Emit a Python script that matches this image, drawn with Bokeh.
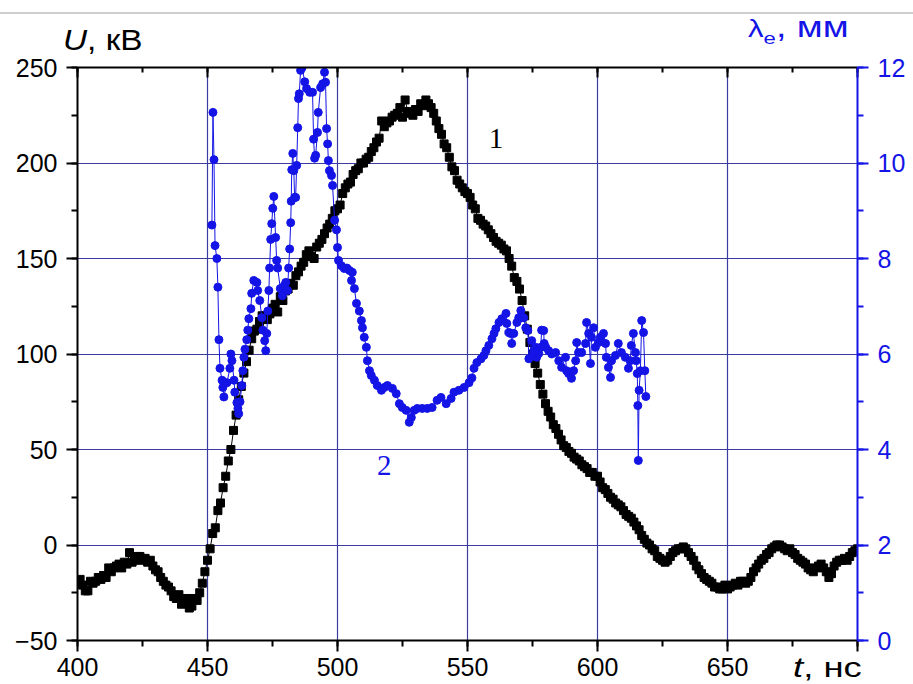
import numpy as np
from bokeh.plotting import figure
from bokeh.layouts import column
from bokeh.models import (Range1d, LinearAxis, SingleIntervalTicker, Label, ColumnDataSource, Div,
                          CustomJSTickFormatter)
from bokeh.embed import file_html
from bokeh.resources import INLINE

# ---- series 1: U, kV (black squares), sampled every 1 ns from 400 to 700 ns
T1 = np.arange(400, 701, 1)
U1 = [-20, -18, -21, -24, -24, -19, -20, -19, -17, -18,
      -16, -17, -12, -14, -12, -11, -10, -12, -9, -10,
      -4, -9, -8, -6, -6, -8, -7, -9, -8, -11,
      -13, -14, -17, -19, -21, -22, -24, -27, -28, -26,
      -31, -29, -28, -33, -32, -28, -29, -25, -20, -14,
      -8, -2, 6, 9, 18, 22, 30, 36, 44, 50,
      60, 68, 76, 83, 90, 96, 102, 108, 112, 113,
      117, 120, 120, 118, 121, 124, 126, 122, 130, 128,
      133, 134, 137, 136, 141, 143, 146, 148, 152, 154,
      151, 150, 156, 158, 160, 163, 166, 168, 171, 175,
      176, 178, 184, 187, 189, 190, 194, 196, 197, 200,
      200, 202, 203, 206, 208, 211, 213, 222, 219, 221,
      222, 224, 225, 226, 229, 224, 233, 227, 226, 225,
      228, 227, 231, 230, 233, 231, 229, 226, 222, 218,
      215, 210, 208, 203, 198, 196, 191, 189, 187, 185,
      184, 182, 178, 176, 171, 170, 168, 167, 165, 163,
      161, 159, 158, 157, 155, 154, 150, 146, 140, 138,
      134, 128, 120, 113, 106, 100, 95, 90, 84, 79,
      74, 70, 67, 63, 61, 58, 55, 52, 51, 49,
      48, 46, 45, 44, 42, 41, 40, 38, 38, 36,
      36, 33, 30, 29, 27, 25, 24, 22, 21, 20,
      18, 16, 15, 14, 12, 10, 8, 5, 3, 1,
      0, -2, -3, -6, -7, -8, -9, -8, -6, -4,
      -3, -2, -2, -1, -2, -4, -6, -8, -11, -13,
      -15, -17, -18, -19, -20, -22, -22, -23, -23, -21,
      -23, -22, -21, -20, -21, -19, -19, -20, -19, -17,
      -14, -12, -10, -8, -7, -5, -4, -2, -1, 0,
      0, -1, -2, -3, -2, -4, -5, -7, -8, -9,
      -10, -12, -13, -14, -12, -11, -10, -12, -14, -17,
      -15, -11, -9, -8, -8, -7, -8, -6, -4, -3,
      -2]

# ---- series 2: lambda_e, mm (blue circles)
T2 = [451.7, 452.1, 452.5, 452.9, 453.6, 454.0, 454.4, 454.8, 455.6, 455.9,
      456.3, 457.5, 458.6, 459.0, 459.4, 460.2, 460.5, 461.3, 461.7, 462.0,
      462.5, 463.2, 463.6, 464.0, 464.4, 465.1, 465.5, 465.9, 466.7, 467.0,
      467.8, 469.0, 469.3, 470.1, 470.9, 471.3, 472.0, 472.4, 472.8, 473.2,
      473.6, 473.9, 474.3, 474.7, 475.1, 475.5, 476.2, 476.6, 477.0, 478.0,
      478.8, 479.5, 480.1, 480.8, 481.2, 481.6, 482.0, 482.2, 482.4, 482.8,
      483.2, 483.5, 483.9, 484.3, 484.7, 485.0, 485.3, 485.8, 486.4, 487.4,
      488.1, 489.3, 490.4, 490.8, 491.2, 491.6, 492.3, 492.6, 493.5, 494.3,
      495.0, 495.4, 495.8, 496.2, 496.5, 496.9, 497.7, 498.1, 498.9, 499.6,
      500.0, 500.4, 501.5, 502.6, 503.6, 504.6, 505.4, 505.7, 506.5, 507.3,
      508.4, 509.2, 509.6, 510.3, 511.1, 511.5, 512.3, 513.0, 514.2, 515.3,
      516.9, 518.0, 519.2, 521.1, 522.6, 523.8, 524.9, 526.4, 527.6, 528.4,
      529.5, 530.7, 532.6, 534.5, 536.4, 538.3, 539.8, 541.8, 543.7, 544.8,
      546.7, 548.7, 550.6, 551.7, 552.5, 553.6, 555.2, 556.3, 557.1, 558.2,
      559.4, 560.2, 560.9, 562.1, 563.2, 564.8, 565.1, 565.9, 566.7, 567.0,
      567.8, 569.0, 569.7, 570.5, 570.9, 571.6, 572.4, 573.2, 573.6, 574.7,
      575.5, 576.2, 576.6, 577.4, 578.2, 578.5, 579.3, 579.5, 580.1, 581.2,
      582.4, 583.9, 585.1, 586.2, 587.7, 588.1, 588.9, 590.0, 590.8, 591.6,
      592.0, 592.7, 593.9, 595.4, 595.8, 596.6, 597.3, 597.7, 598.5, 599.2,
      600.4, 601.1, 602.3, 603.1, 603.4, 604.2, 605.0, 605.4, 606.9, 608.0,
      609.2, 610.7, 611.9, 612.6, 613.0, 613.8, 614.6, 614.9, 615.3, 615.5,
      615.7, 616.0, 616.5, 617.0, 617.7, 618.2, 618.6]
L2 = [8.7, 11.06, 10.07, 8.27, 8.0, 7.4, 6.3, 5.7, 5.45, 5.3,
      5.1, 5.4, 5.7, 6.0, 5.86, 5.45, 5.2, 4.98, 4.86, 4.75,
      5.0, 5.34, 5.65, 5.93, 6.1, 6.3, 6.5, 6.74, 6.95, 7.27,
      7.54, 7.5, 7.33, 7.12, 6.76, 6.5, 6.28, 6.07, 6.43, 6.9,
      7.33, 7.8, 8.4, 8.73, 9.05, 9.3, 8.44, 7.96, 7.8, 7.37,
      7.22, 7.43, 7.5, 7.33, 7.8, 8.2, 8.75, 9.2, 9.86, 10.2,
      9.84, 9.28, 9.28, 9.95, 10.74, 11.35, 11.45, 11.94, 12.0, 11.7,
      11.56, 11.48, 11.48, 10.5, 10.1, 10.16, 10.64, 11.06, 11.58, 11.66,
      11.9, 11.69, 10.72, 10.4, 10.05, 9.84, 9.74, 9.53, 8.8, 8.6,
      8.23, 7.96, 7.85, 7.79, 7.8, 7.75, 7.54, 7.71, 7.37, 7.06,
      6.9, 6.7, 6.55, 6.35, 6.14, 5.86, 5.65, 5.55, 5.45, 5.34,
      5.24, 5.3, 5.34, 5.28, 5.17, 4.96, 4.88, 4.82, 4.57, 4.67,
      4.82, 4.86, 4.86, 4.86, 4.88, 5.03, 5.09, 4.96, 5.07, 5.2,
      5.24, 5.3, 5.4, 5.5, 5.7, 5.82, 5.9, 5.97, 6.07, 6.18,
      6.32, 6.43, 6.53, 6.66, 6.74, 6.85, 6.64, 6.45, 6.43, 6.22,
      6.43, 6.66, 6.76, 6.91, 6.76, 6.76, 6.55, 6.49, 5.9, 6.28,
      6.03, 6.14, 5.93, 6.01, 6.14, 6.5, 6.49, 6.22, 6.14, 6.07,
      6.0, 6.03, 5.86, 5.72, 5.93, 5.65, 5.59, 5.49, 5.65, 5.86,
      6.24, 6.03, 6.03, 6.22, 6.66, 6.43, 5.8, 6.35, 6.55, 6.14,
      6.24, 6.35, 6.43, 6.22, 5.93, 5.72, 5.51, 5.86, 5.97, 6.22,
      6.03, 5.93, 5.7, 5.86, 6.18, 6.43, 6.03, 5.86, 5.59, 4.92,
      3.77, 5.24, 5.65, 6.7, 6.45, 5.65, 5.11]

X_TICK_LABELS = {700: ""}

FONT = "Liberation Sans"
BLUE = "#1414e6"
GRID = "#3c3ca0"

fig = figure(width=913, height=684, x_range=Range1d(400, 700), y_range=Range1d(-50, 250),
             output_backend="svg", toolbar_location=None,
             min_border_left=77, min_border_right=56, min_border_top=67, min_border_bottom=44,
             background_fill_color="white", border_fill_color="white")
fig.outline_line_color = None
fig.extra_y_ranges = {"lam": Range1d(0, 12)}

xt = SingleIntervalTicker(interval=50, num_minor_ticks=2)
yt = SingleIntervalTicker(interval=50, num_minor_ticks=2)
fig.xaxis.ticker = xt
fig.yaxis.ticker = yt
fig.xgrid.ticker = xt
fig.ygrid.ticker = yt
for g in (fig.xgrid, fig.ygrid):
    g.grid_line_color = GRID
    g.grid_line_width = 1.2

def style_axis(ax, color):
    ax.axis_line_color = color
    ax.axis_line_width = 2
    ax.major_tick_line_color = color
    ax.minor_tick_line_color = color
    ax.major_tick_line_width = 2
    ax.minor_tick_line_width = 2
    ax.major_tick_out = 11
    ax.major_tick_in = 0
    ax.minor_tick_out = 6
    ax.minor_tick_in = 0
    ax.major_label_text_font = FONT
    ax.major_label_text_font_size = "25px"
    ax.major_label_text_color = color

style_axis(fig.xaxis[0], "black")
style_axis(fig.yaxis[0], "black")
fig.xaxis.major_label_overrides = X_TICK_LABELS
fig.xaxis.major_label_standoff = 6
fig.yaxis.major_label_standoff = 9

ra = LinearAxis(y_range_name="lam", ticker=SingleIntervalTicker(interval=2, num_minor_ticks=2))
style_axis(ra, BLUE)
ra.major_label_standoff = 9
fig.add_layout(ra, "right")

# mirrored top axis: inward ticks only, no labels
ta = LinearAxis(ticker=SingleIntervalTicker(interval=50, num_minor_ticks=2),
                formatter=CustomJSTickFormatter(code="return ''"))
style_axis(ta, "black")
ta.major_tick_out = 0
ta.major_tick_in = 10
ta.minor_tick_out = 0
ta.minor_tick_in = 5
ta.major_label_standoff = 0
fig.add_layout(ta, "above")

src1 = ColumnDataSource(dict(t=T1, u=U1))
src2 = ColumnDataSource(dict(t=T2, l=L2))

fig.line("t", "u", source=src1, line_color="black", line_width=1)
fig.scatter("t", "u", source=src1, marker="square", size=8, fill_color="black", line_color="black")

fig.line("t", "l", source=src2, y_range_name="lam", line_color=BLUE, line_width=1)
fig.scatter("t", "l", source=src2, y_range_name="lam", marker="circle", size=8,
            fill_color=BLUE, line_color=BLUE)

def lab(x, y, text, size, color="black", font=FONT):
    fig.add_layout(Label(x=x, y=y, text=text, text_font=font, text_font_size=size,
                         text_color=color, text_align="center", text_baseline="middle"))

lab(561, 212.6, "1", "29px", font="Liberation Serif")
lab(518, 41.4, "2", "29px", color=BLUE, font="Liberation Serif")

# texts outside the plotting frame (axis titles) as an overlay
SPAN = ("position:absolute;white-space:nowrap;font-family:'Liberation Sans';line-height:32px;"
        "display:inline-block;transform-origin:left center;")
html = (
    '<div style="position:absolute;left:0px;top:12px;width:913px;height:2px;background:#cfcfcf;"></div>'
    f'<span style="{SPAN}left:63px;top:24px;font-size:29px;color:black;transform:scaleX(1.15);">'
    '<i>U</i>, кВ</span>'
    f'<span style="{SPAN}left:748px;top:11px;font-size:29px;color:{BLUE};transform:scaleX(1.3);">'
    '<span style="font-size:24px;">λ</span><sub style="font-size:17px;">e</sub>, мм</span>'
    f'<span style="{SPAN}left:793px;top:652px;font-size:27px;color:black;transform:scaleX(1.35);">'
    '<i>t</i>, нс</span>'
)
overlay = Div(text=html, width=913, height=684,
              styles={"position": "absolute", "left": "0px", "top": "0px",
                      "pointer-events": "none", "margin": "0px", "padding": "0px"})

p = column(fig, overlay)

open("out.html", "w").write(file_html(p, INLINE))
